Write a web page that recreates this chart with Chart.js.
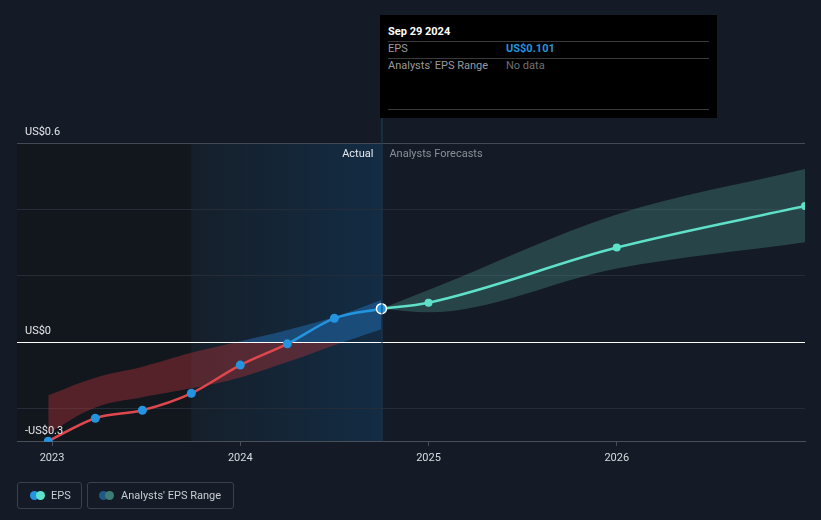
<!DOCTYPE html>
<html>
<head>
<meta charset="utf-8">
<script src="https://cdn.jsdelivr.net/npm/chart.js@4.4.0/dist/chart.umd.min.js"></script>
<style>
  body { margin: 0; background: #151b26; font-family: Roboto, "Noto Sans", sans-serif; }
  #wrap { position: relative; width: 821px; height: 520px; overflow: hidden; }
  #tip { position: absolute; left: 380px; top: 15px; width: 337px; height: 103px; background: #000; color: #fff; font-size: 11px; }
  #tip .date { position: absolute; left: 8px; top: 10px; font-weight: bold; }
  #tip .sep { position: absolute; left: 8px; right: 8px; height: 1px; background: #3a3a3a; }
  #tip .lab { position: absolute; left: 8px; color: #9a9a9a; }
  #tip .val { position: absolute; left: 126px; }
  .legend { position: absolute; top: 482px; height: 27px; border: 1px solid #3b404a; border-radius: 3px; box-sizing: border-box;
            color: #c9ccd2; font-size: 11px; line-height: 25px; }
  .dot { position: absolute; top: 8px; width: 9px; height: 9px; border-radius: 50%; }
</style>
</head>
<body>
<div id="wrap">
  <canvas id="myChart" width="821" height="520"></canvas>
  <div id="tip">
    <div class="date">Sep 29 2024</div>
    <div class="sep" style="top:26px"></div>
    <div class="lab" style="top:27px">EPS</div>
    <div class="val" style="top:27px;color:#2394df;font-weight:bold">US$0.101</div>
    <div class="sep" style="top:43px"></div>
    <div class="lab" style="top:44px">Analysts' EPS Range</div>
    <div class="val" style="top:44px;color:#6f6f6f">No data</div>
    <div class="sep" style="top:94px"></div>
  </div>
  <div class="legend" style="left:17px;width:65px">
    <span class="dot" style="left:12px;background:#2394df"></span>
    <span class="dot" style="left:18px;background:#5fe0c9"></span>
    <span style="position:absolute;left:33px">EPS</span>
  </div>
  <div class="legend" style="left:87px;width:147px">
    <span class="dot" style="left:11px;background:#1f5a86"></span>
    <span class="dot" style="left:17px;background:#3d7d76"></span>
    <span style="position:absolute;left:33px">Analysts' EPS Range</span>
  </div>
</div>
<script>
// actual EPS (decimal years)
const actualX = [2022.98, 2023.23, 2023.48, 2023.74, 2024.0, 2024.25, 2024.5, 2024.75];
const actualEps = [-0.298, -0.229, -0.205, -0.154, -0.069, -0.005, 0.072, 0.101];
const pastRangeHigh = [-0.160, -0.107, -0.074, -0.032, 0.003, 0.037, 0.076, 0.127];
const pastRangeLow = [-0.275, -0.197, -0.166, -0.139, -0.106, -0.060, -0.009, 0.039];

// forecast
const forecastX = [2024.75, 2025, 2026, 2027];
const forecastEps = [0.101, 0.119, 0.285, 0.41];
const forecastHigh = [0.101, 0.157, 0.385, 0.522];
const forecastLow = [0.101, 0.09, 0.222, 0.301];

const yearTicks = [2023, 2024, 2025, 2026];
const yGrid = [-0.3, -0.2, 0, 0.2, 0.4, 0.6];
const yLabels = [[0.6, "US$0.6"], [0, "US$0"], [-0.3, "-US$0.3"]];
const actualStart = 2023.74;
const todayX = 2024.75;

function pts(xs, ys) {
  return xs.map((x, i) => ({ x: x, y: ys[i] }));
}

// red below zero, blue above
function splitAtZero(ctx, above, below) {
  const chart = ctx.chart;
  const area = chart.chartArea;
  if (!area) return below;
  const y0 = chart.scales.y.getPixelForValue(0);
  const g = chart.ctx.createLinearGradient(0, area.top, 0, area.bottom);
  const s = Math.min(1, Math.max(0, (y0 - area.top) / (area.bottom - area.top)));
  g.addColorStop(0, above);
  g.addColorStop(s, above);
  g.addColorStop(s, below);
  g.addColorStop(1, below);
  return g;
}

const backdrop = {
  id: "backdrop",
  beforeDraw(chart) {
    const { ctx, chartArea, scales } = chart;
    const xa = scales.x.getPixelForValue(actualStart);
    const xt = scales.x.getPixelForValue(todayX);
    ctx.save();
    ctx.fillStyle = "#12161d";
    ctx.fillRect(chartArea.left, chartArea.top, xa - chartArea.left, chartArea.bottom - chartArea.top);
    const g = ctx.createLinearGradient(xa, 0, xt, 0);
    g.addColorStop(0, "#151f2a");
    g.addColorStop(1, "#132c44");
    ctx.fillStyle = g;
    ctx.fillRect(xa, chartArea.top, xt - xa, chartArea.bottom - chartArea.top);
    ctx.restore();
  },
  beforeDatasetDraw(chart, args) {
    // zero line on top of the range fills, under the EPS line
    if (args.index !== 4) return;
    const { ctx, chartArea, scales } = chart;
    const y0 = Math.round(scales.y.getPixelForValue(0)) + 0.5;
    ctx.save();
    ctx.strokeStyle = "#ffffff";
    ctx.lineWidth = 1;
    ctx.beginPath();
    ctx.moveTo(chartArea.left, y0);
    ctx.lineTo(chartArea.right, y0);
    ctx.stroke();
    ctx.restore();
  },
  afterDatasetsDraw(chart) {
    const { ctx, chartArea, scales } = chart;
    const xt = scales.x.getPixelForValue(todayX);
    ctx.save();
    ctx.strokeStyle = "#1e3f5e";
    ctx.lineWidth = 1;
    ctx.beginPath();
    ctx.moveTo(xt + 0.5, 118);
    ctx.lineTo(xt + 0.5, chartArea.bottom);
    ctx.stroke();
    ctx.font = "11px Roboto";
    ctx.textBaseline = "middle";
    ctx.fillStyle = "#e6e8eb";
    ctx.textAlign = "right";
    ctx.fillText("Actual", xt - 8, chartArea.top + 11);
    ctx.fillStyle = "#8a8f97";
    ctx.textAlign = "left";
    ctx.fillText("Analysts Forecasts", xt + 8, chartArea.top + 11);
    ctx.fillStyle = "#e6e8eb";
    yLabels.forEach((l) => {
      ctx.fillText(l[1], chartArea.left + 8, scales.y.getPixelForValue(l[0]) - 11);
    });
    ctx.restore();
  }
};

const chart = new Chart(document.getElementById("myChart"), {
  type: "line",
  data: {
    datasets: [
      {
        label: "pastHigh",
        order: 3,
        data: pts(actualX, pastRangeHigh),
        borderWidth: 0,
        pointRadius: 0,
        tension: 0.4,
        fill: "+1",
        backgroundColor: (ctx) => splitAtZero(ctx, "rgba(33,110,180,0.5)", "rgba(175,50,55,0.42)")
      },
      {
        label: "pastLow",
        order: 3,
        data: pts(actualX, pastRangeLow),
        borderWidth: 0,
        pointRadius: 0,
        tension: 0.4,
        fill: false
      },
      {
        label: "foreHigh",
        order: 3,
        data: pts(forecastX, forecastHigh),
        borderWidth: 0,
        pointRadius: 0,
        cubicInterpolationMode: "monotone",
        fill: "+1",
        backgroundColor: "rgba(78,160,150,0.32)"
      },
      {
        label: "foreLow",
        order: 3,
        data: pts(forecastX, forecastLow),
        borderWidth: 0,
        pointRadius: 0,
        cubicInterpolationMode: "monotone",
        fill: false
      },
      {
        label: "EPS",
        order: 0,
        data: pts(actualX, actualEps),
        borderWidth: 2.5,
        borderColor: (ctx) => splitAtZero(ctx, "#2394df", "#e0474c"),
        cubicInterpolationMode: "monotone",
        pointRadius: actualX.map((x, i) => (i === actualX.length - 1 ? 5 : 4.5)),
        pointBackgroundColor: "#2394df",
        pointBorderColor: actualX.map((x, i) => (i === actualX.length - 1 ? "#ffffff" : "#2394df")),
        pointBorderWidth: actualX.map((x, i) => (i === actualX.length - 1 ? 1.5 : 0)),
        fill: false
      },
      {
        label: "Forecast",
        order: 1,
        data: pts(forecastX, forecastEps),
        borderWidth: 2.5,
        borderColor: "#5fe0c9",
        cubicInterpolationMode: "monotone",
        pointRadius: forecastX.map((x, i) => (i === 0 ? 0 : 4)),
        pointBackgroundColor: "#5fe0c9",
        pointBorderWidth: 0,
        fill: false
      }
    ]
  },
  options: {
    responsive: false,
    animation: false,
    layout: { padding: { left: 17, right: 16, top: 143, bottom: 49 } },
    plugins: { legend: { display: false }, tooltip: { enabled: false } },
    scales: {
      x: {
        type: "linear",
        min: 2022.814,
        max: 2027.0,
        afterBuildTicks: (axis) => { axis.ticks = yearTicks.map((v) => ({ value: v })); },
        ticks: { color: "#d8dbe0", font: { family: "Roboto", size: 11 }, padding: 6, callback: (v) => String(v) },
        grid: { drawOnChartArea: false, color: "#4a505a", tickLength: 4 },
        border: { color: "#4a505a" }
      },
      y: {
        min: -0.3,
        max: 0.6,
        afterBuildTicks: (axis) => { axis.ticks = yGrid.map((v) => ({ value: v })); },
        ticks: { display: false },
        grid: {
          drawTicks: false,
          color: (ctx) => {
            const v = ctx.tick.value;
            if (Math.abs(v) < 1e-9) return "#ffffff";
            if (v === 0.6 || v === -0.3) return "#444a54";
            return "#262c37";
          }
        },
        border: { display: false }
      }
    }
  },
  plugins: [backdrop]
});
</script>
</body>
</html>
